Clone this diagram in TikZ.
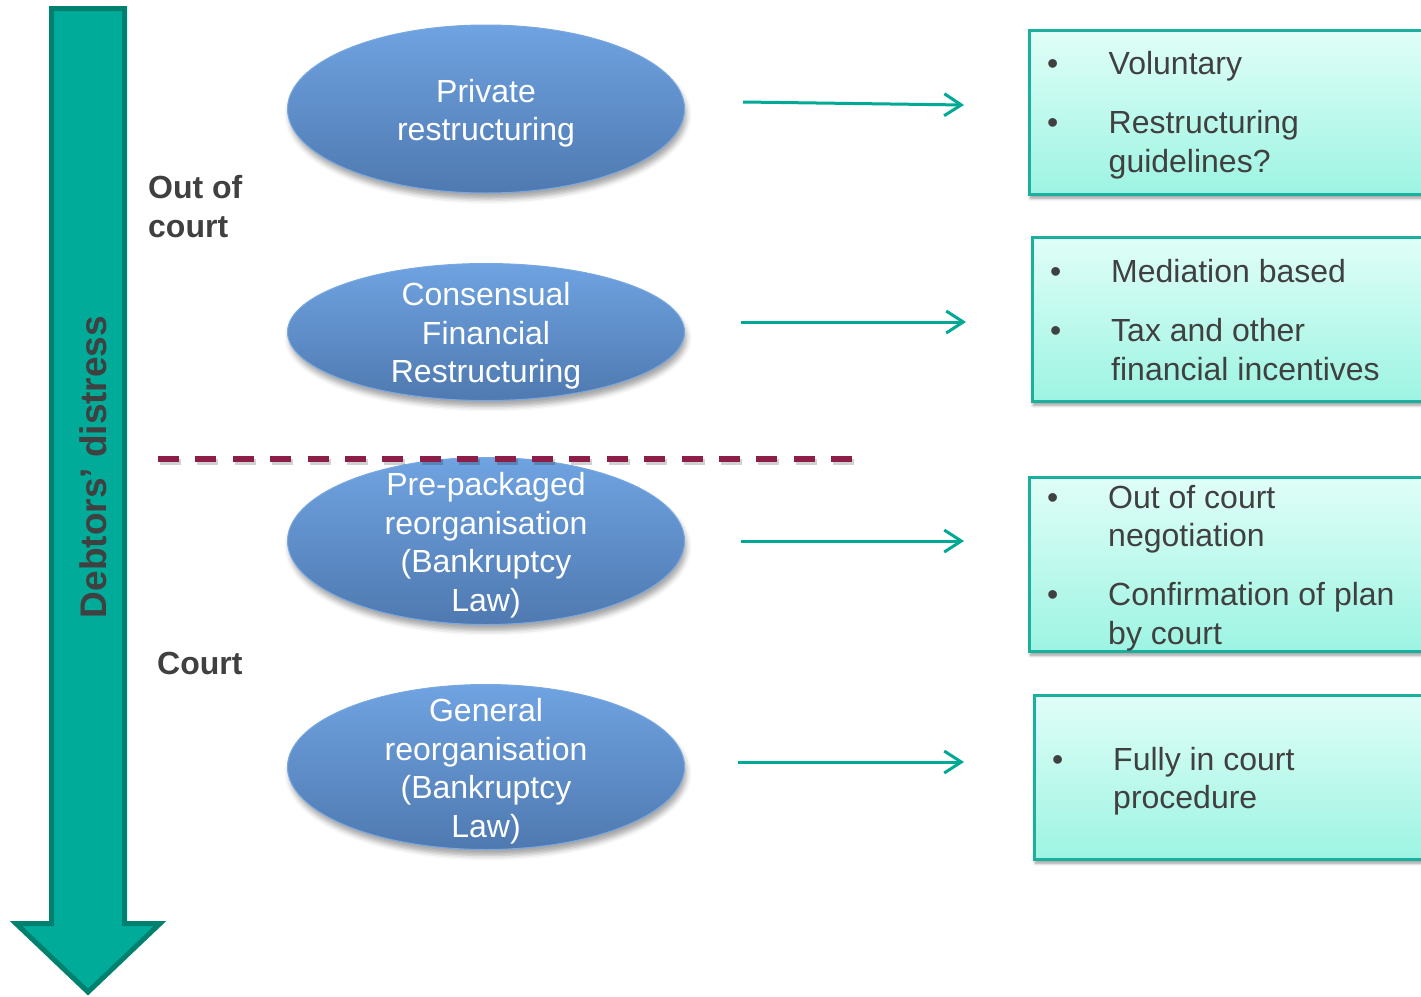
\documentclass[tikz,border=0pt]{standalone}
\usepackage{fontspec}
\setmainfont{Liberation Sans}
\usetikzlibrary{shapes.geometric,arrows.meta,shadows.blur}
\definecolor{tealfill}{HTML}{00AC99}
\definecolor{tealedge}{HTML}{00806F}
\definecolor{tealarr}{HTML}{00A896}
\definecolor{txtgray}{HTML}{404040}
\definecolor{etop}{HTML}{6FA3E1}
\definecolor{ebot}{HTML}{4F79B0}
\definecolor{eedge}{HTML}{7AA8E0}
\definecolor{btop}{HTML}{E0FEF8}
\definecolor{bbot}{HTML}{9DF4E2}
\definecolor{bedge}{HTML}{1BAF9D}
\definecolor{divcol}{HTML}{8C1E47}
\begin{document}
\begin{tikzpicture}[x=1pt,y=-1pt,
  oval/.style={ellipse, minimum width=397pt, inner sep=0pt,
    top color=etop, bottom color=ebot, draw=eedge, line width=1pt,
    blur shadow={shadow xshift=2pt, shadow yshift=-6pt, shadow blur radius=5pt, shadow opacity=35}},
  ovaltext/.style={text=white, align=center, inner sep=0pt,
    font=\fontsize{32}{38.5}\selectfont},
  infobox/.style={rectangle, anchor=north west, minimum width=430pt, inner sep=0pt,
    draw=bedge, line width=2.5pt, top color=btop, bottom color=bbot,
    blur shadow={shadow xshift=1pt, shadow yshift=-4pt, shadow blur radius=3pt, shadow opacity=40}},
  boxtext/.style={text=txtgray, align=left, anchor=west, inner sep=0pt,
    font=\fontsize{32}{38.5}\selectfont},
  sidelabel/.style={text=txtgray, align=left, anchor=west, inner sep=0pt,
    font=\fontsize{32}{39}\selectfont\bfseries},
  conn/.style={draw=tealarr, line width=3pt, -{Straight Barb[length=17pt, width=22pt]}},
  divider/.style={draw=divcol, line width=6pt, dash pattern=on 21pt off 16.4pt},
  dividershadow/.style={draw=black, opacity=0.18, line width=6pt, dash pattern=on 21pt off 16.4pt},
  bigarrow/.style={fill=tealfill, draw=tealedge, line width=5pt, miter limit=20}
]
\useasboundingbox (0,0) rectangle (1421,996);
\clip (0,0) rectangle (1421,996);

% big down arrow
\draw[bigarrow] (51.5,8.5) -- (124.5,8.5) -- (124.5,923.5) -- (160,923.5)
  -- (88,992) -- (16,923.5) -- (51.5,923.5) -- cycle;
\node[rotate=90, text=txtgray, inner sep=0pt,
  font=\fontsize{37}{40}\selectfont\bfseries] (dd) at (93,467) {Debtors’ distress};

% side labels
\node[sidelabel] (ooc) at (148,207) {Out of\\court};
\node[sidelabel] (crt) at (157,663) {Court};

% ellipses
\node[oval, minimum height=168pt] (e1) at (486,109) {};
\node[oval, minimum height=137pt] (e2) at (486,332) {};
\node[oval, minimum height=167pt] (e3) at (486,541) {};
\node[oval, minimum height=165pt] (e4) at (486,767) {};

% divider
\coordinate (dl) at (158,459);
\coordinate (dr) at (856,459);
\draw[dividershadow] ([shift={(2,3)}]dl) -- ([shift={(2,3)}]dr);
\draw[divider] (dl) -- (dr);

\node[ovaltext] (t1) at ([yshift=-4pt]e1.center) {Private\\restructuring};
\node[ovaltext] (t2) at ([yshift=-4pt]e2.center) {Consensual\\Financial\\Restructuring};
\node[ovaltext] (t3) at ([yshift=-4pt]e3.center) {Pre-packaged\\reorganisation\\(Bankruptcy\\Law)};
\node[ovaltext] (t4) at ([yshift=-4pt]e4.center) {General\\reorganisation\\(Bankruptcy\\Law)};

% boxes
\node[infobox, minimum height=164pt] (b1) at (1028,29) {};
\node[infobox, minimum height=164pt] (b2) at (1031,236) {};
\node[infobox, minimum height=174pt] (b3) at (1028,476) {};
\node[infobox, minimum height=164pt] (b4) at (1033,694) {};

\node[boxtext] (bt1) at (1047,115)
  {\makebox[61.5pt][l]{\textbullet}Voluntary\\[20.5pt]\makebox[61.5pt][l]{\textbullet}Restructuring\\\hspace*{61.5pt}guidelines?};
\node[boxtext] (bt2) at (1050,320)
  {\makebox[61pt][l]{\textbullet}Mediation based\\[20.5pt]\makebox[61pt][l]{\textbullet}Tax and other\\\hspace*{61pt}financial incentives};
\node[boxtext] (bt3) at (1047,568)
  {\makebox[61pt][l]{\textbullet}Out of court\\\hspace*{61pt}negotiation\\[20.5pt]\makebox[61pt][l]{\textbullet}Confirmation of plan\\\hspace*{61pt}by court};
\node[boxtext] (bt4) at (1052,781)
  {\makebox[61pt][l]{\textbullet}Fully in court\\\hspace*{61pt}procedure};

% connectors
\coordinate (a1s) at (743,102); \coordinate (a1e) at (964,105);
\coordinate (a2s) at (741,322); \coordinate (a2e) at (966,322);
\coordinate (a3s) at (741,541); \coordinate (a3e) at (964,541);
\coordinate (a4s) at (738,762); \coordinate (a4e) at (964,762);
\draw[conn] (a1s) -- (a1e);
\draw[conn] (a2s) -- (a2e);
\draw[conn] (a3s) -- (a3e);
\draw[conn] (a4s) -- (a4e);
\end{tikzpicture}
\end{document}
